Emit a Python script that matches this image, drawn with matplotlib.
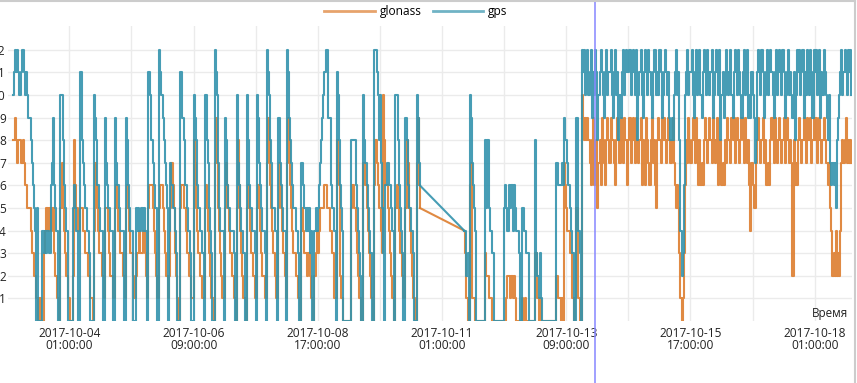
import numpy as np
import pandas as pd
import matplotlib
matplotlib.use('Agg')
import matplotlib.pyplot as plt
from matplotlib.lines import Line2D

plt.rcParams['font.family'] = ['Open Sans', 'DejaVu Sans']

# values, one char per 30 min sample (a=10, b=11, c=12)
# first run: 2017-10-02 23:30 .. 2017-10-10 15:00
gps_a = [
    "abcbcbabccbaba 998 76 54 0500 04 4343443 679 654 400 aa 86544 0",
    "000 5654400 b 87655443 000 a9 866544 00 9 765544 00 9 7665444 00 98 654",
    "4000 5454454544 0 bba 87655 00 cb a98765 04765543000 bb9866544300",
    "a 98655443 0 aa 87543 00 cb a75444 0 9 86554443 00 a 765443 00 a 8655443",
    "0 a9 765443 0 cb a875544 0 99 765440 cb 98765544 300 77 6545 453400 454",
    "5 678 9ab cc 999 6554 0 ba 865 4 0000000 88886 5432 00 a 8765 433 00 cc ba8",
    "a75 30 67766 544 0 aa 8654 30 09 865544 300 a9 76",
]
glonass_a = [
    "88987887787665 554 33 22 110100 0345545 455 322 110 57 54322 1",
    "100 2865544 5 54433322 110 47 654332 21 5 554322 11 5 6544332 21 56 543",
    "3211 2334334432 1 566 65432 11 56 654322 12576532100 566554332211",
    "8 75433221 1 56 54321 10 79 754321 1 5 76543321 10 5 864321 10 5 6543321",
    "1 56 543221 1 79 8654321 1 57 654321 79 86543322 110 45 4332 332110 234",
    "3455 556 65 554 4331 1 87 621 1 0000000 56654 3211 00 7 7654 321 10 68 765",
    "543 a8 66543 211 0 56 5433 21 15 875432 110 79 65",
]
# second run: 2017-10-11 11:00 .. 2017-10-18 17:30
gps_b = [
    "44 23 0 a9 7654 00000000 85 85 4433 0 00000000",
    "5654 656646 544 30 0 5544 330 00000 8 32131 0000000000000 7766 676 98",
    "876 5433 00 99 430 cbcab cabc9bacb 8 abcba9bcabbca9bcab 8a9b cabcb",
    "bcabcbac 8 abca9bcbacba9bccabacb9abcbab9 898 abcab 84236 abcab",
    "bca9bcabca9bcbacbabc9abcbac8 ab9acbabca9bcbacba9bcabc9a9b",
    "a978b cbacb9abcabcba9bcabcbacb9abcab a9b8acb cabc9bacbacb9c",
    "bcabc9bacba 98a 76767589ab cabcbacbca",
]
glonass_b = [
    "43 10 0 67 1110 00000000 32 21 1100 0 00000000",
    "0012 212212 100 00 0 1001 000 00000 3 31010 0000000000000 2211 010 76",
    "544 3311 01 55 100 a9898 987689678 5 786987689879887689 8798 79886",
    "89789879 8 78968769876897865898798987898 789 76565 31013 68798",
    "7898798686768987898798789678 6768798879897898789879878647",
    "65578 987897866768987987898789789878 7286768 98789879889789",
    "89789878987 767 5423242324 7878978787",
]

start_a = '2017-10-02 23:30'
start_b = '2017-10-11 11:00'
cursor_time = '2017-10-13 22:00'
tick_start = '2017-10-04 01:00'


def decode(chunks):
    return [int(c, 16) for c in ''.join(chunks).replace(' ', '')]


def draw(ax, part_a, part_b, color, label):
    ya, yb = decode(part_a), decode(part_b)
    ta = pd.date_range(start_a, periods=len(ya), freq='30min').to_pydatetime()
    tb = pd.date_range(start_b, periods=len(yb), freq='30min').to_pydatetime()
    kw = dict(color=color, lw=1.5, alpha=0.9)
    ax.plot(ta, ya, drawstyle='steps-post', label=label, **kw)
    # no data between the runs: the line just joins them
    ax.plot([ta[-1], tb[0]], [ya[-1], yb[0]], **kw)
    ax.plot(tb, yb, drawstyle='steps-post', **kw)


fig = plt.figure(figsize=(8.57, 3.83), dpi=100)
ax = fig.add_axes([8/857, 62/383, 844/857, 295/383])

draw(ax, glonass_a, glonass_b, '#dd7d2e', 'glonass')
draw(ax, gps_a, gps_b, '#3393ad', 'gps')

ax.set_xlim(pd.Timestamp('2017-10-02 21:20'), pd.Timestamp('2017-10-18 17:50'))
ax.set_ylim(0, 13.05)

major = pd.date_range(tick_start, periods=7, freq='56h')
minor = pd.date_range('2017-10-05 05:00', periods=6, freq='56h')
ax.set_xticks(major.to_pydatetime(), [d.strftime('%Y-%m-%d\n%H:%M:%S') for d in major])
ax.set_xticks(minor.to_pydatetime(), minor=True)
ax.set_yticks(range(1, 13))
ax.grid(True, which='both', axis='x', color='#ebebeb', lw=1)
ax.grid(True, axis='y', color='#ebebeb', lw=1)
ax.set_axisbelow(True)
ax.tick_params(which='both', length=0, labelsize=8.6, colors='#222222')
ax.tick_params(axis='x', pad=4)
ax.tick_params(axis='y', pad=1.5)
for lbl in ax.get_xticklabels():
    lbl.set_linespacing(0.95)
for s in ax.spines.values():
    s.set_visible(False)

ax.text(0.9953, 0.014, 'Время', transform=ax.transAxes, ha='right', va='baseline',
        fontsize=8.4, color='#222222')

ax.axvline(pd.Timestamp(cursor_time), ymin=-0.22, ymax=1.1, color='#8888ff',
           lw=1.4, alpha=0.8, clip_on=False, zorder=5)

leg = ax.legend(loc='center', bbox_to_anchor=(416/857, 1 - 12/383),
                bbox_transform=fig.transFigure, ncol=2, frameon=False,
                handlelength=4.2, handletextpad=0.45, columnspacing=0.9,
                fontsize=8.6)
for ln in leg.get_lines():
    ln.set_alpha(0.7)
    ln.set_linewidth(2)

# screenshot frame on top and right
fig.add_artist(Line2D([0, 855/857], [1 - 0.8/383] * 2, color='#cccccc', lw=1.5,
                      transform=fig.transFigure))
fig.add_artist(Line2D([855/857] * 2, [0, 1], color='#cccccc', lw=1.5,
                      transform=fig.transFigure))

fig.savefig('out.png', dpi=100)
